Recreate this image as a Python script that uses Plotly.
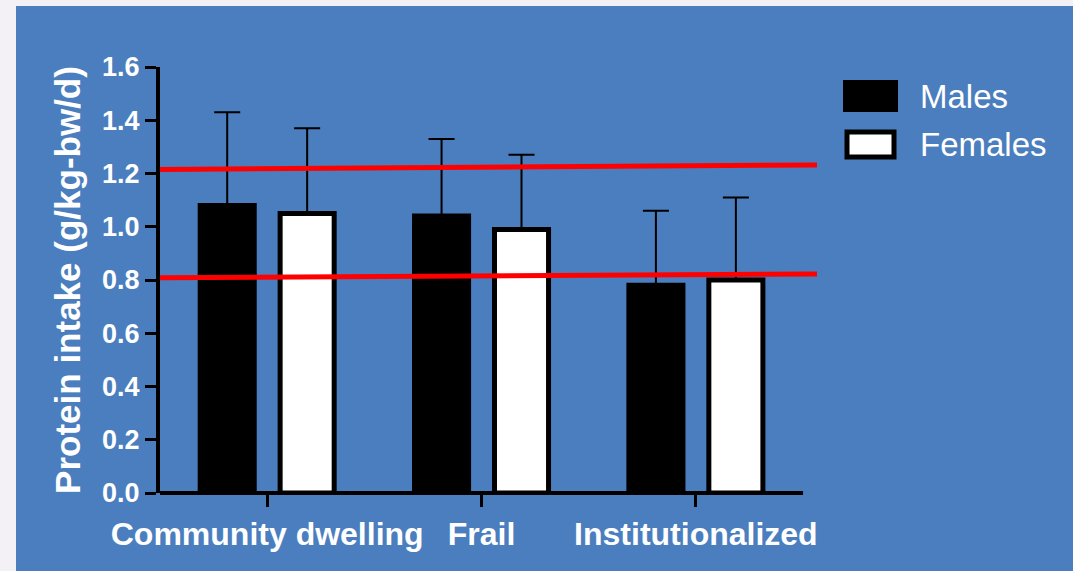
import plotly.graph_objects as go

# ---- data ----
groups = ["Community dwelling", "Frail", "Institutionalized"]
males_mean = [1.08, 1.04, 0.78]
males_sd = [0.35, 0.29, 0.28]
females_mean = [1.05, 0.99, 0.80]
females_sd = [0.32, 0.28, 0.31]
# reference intake band (start/end level of each red line)
band_upper = [1.215, 1.232]
band_lower = [0.808, 0.823]
y_ticks = [0.0, 0.2, 0.4, 0.6, 0.8, 1.0, 1.2, 1.4, 1.6]

# ---- layout geometry ----
W, H = 1073, 571
PL, PR, PT, PB = 160, 817, 67, 493   # plot area in pixels
X_RANGE = [-0.5, 2.565]
Y_RANGE = [0, 1.6]
BLUE = "#4a7ebe"
FONT = "Liberation Sans, Arial, sans-serif"


def px_x(px):
    return (px - PL) / (PR - PL)


def px_y(py):
    return (PB - py) / (PB - PT)


fig = go.Figure()

fig.add_trace(go.Bar(
    name="Males", x=groups, y=males_mean,
    marker=dict(color="black", line=dict(color="black", width=5)),
    error_y=dict(type="data", array=males_sd, arrayminus=[0] * 3,
                 symmetric=False, color="black", thickness=2, width=13),
    showlegend=False,
))
fig.add_trace(go.Bar(
    name="Females", x=groups, y=females_mean,
    marker=dict(color="white", line=dict(color="black", width=5)),
    error_y=dict(type="data", array=females_sd, arrayminus=[0] * 3,
                 symmetric=False, color="black", thickness=2, width=13),
    showlegend=False,
))

shapes = [
    # white frame strips and blue panel
    dict(type="rect", xref="paper", yref="paper", layer="below",
         x0=px_x(0), x1=px_x(W), y0=px_y(H), y1=px_y(0),
         fillcolor="#f3f1f6", line=dict(width=0)),
    dict(type="rect", xref="paper", yref="paper", layer="below",
         x0=px_x(16), x1=px_x(W), y0=px_y(H), y1=px_y(6),
         fillcolor=BLUE, line=dict(width=0)),
    # x axis line (ends at the last category slot)
    dict(type="line", xref="x", yref="paper", x0=-0.5, x1=2.5, y0=0, y1=0,
         line=dict(color="black", width=4)),
    # red reference lines
    dict(type="line", xref="x", yref="y", x0=X_RANGE[0], x1=X_RANGE[1],
         y0=band_upper[0], y1=band_upper[1], line=dict(color="#ff0000", width=5)),
    dict(type="line", xref="x", yref="y", x0=X_RANGE[0], x1=X_RANGE[1],
         y0=band_lower[0], y1=band_lower[1], line=dict(color="#ff0000", width=5)),
    # legend swatches
    dict(type="rect", xref="paper", yref="paper",
         x0=px_x(845), x1=px_x(896), y0=px_y(110), y1=px_y(82),
         fillcolor="black", line=dict(color="black", width=4)),
    dict(type="rect", xref="paper", yref="paper",
         x0=px_x(847), x1=px_x(894), y0=px_y(157), y1=px_y(132),
         fillcolor="white", line=dict(color="black", width=5)),
]

annotations = [
    dict(text="Males", xref="paper", yref="paper", x=px_x(918), y=px_y(96),
         xanchor="left", yanchor="middle", showarrow=False,
         font=dict(family=FONT, size=33, color="white")),
    dict(text="Females", xref="paper", yref="paper", x=px_x(918), y=px_y(144),
         xanchor="left", yanchor="middle", showarrow=False,
         font=dict(family=FONT, size=33, color="white")),
]

fig.update_layout(
    width=W, height=H,
    margin=dict(l=PL, r=W - PR, t=PT, b=H - PB, pad=0),
    paper_bgcolor=BLUE, plot_bgcolor="rgba(0,0,0,0)",
    barmode="group", bargap=0.254, bargroupgap=0.324,
    shapes=shapes, annotations=annotations,
    font=dict(family=FONT, color="white"),
    xaxis=dict(
        range=X_RANGE, showgrid=False, zeroline=False, showline=False,
        ticks="outside", ticklen=13, tickwidth=3, tickcolor="black",
        tickfont=dict(family=FONT, size=32, color="white", weight="bold"),
    ),
    yaxis=dict(
        range=Y_RANGE, tickvals=y_ticks, tickformat=".1f",
        showgrid=False, zeroline=False, showline=True, linecolor="black", linewidth=4,
        ticks="outside", ticklen=11, tickwidth=3, tickcolor="black",
        tickfont=dict(family=FONT, size=27, color="white", weight="bold"),
        title=dict(text="Protein intake (g/kg-bw/d)", standoff=12,
                   font=dict(family=FONT, size=35, color="white", weight="bold")),
    ),
)

fig.write_html("out.html")
